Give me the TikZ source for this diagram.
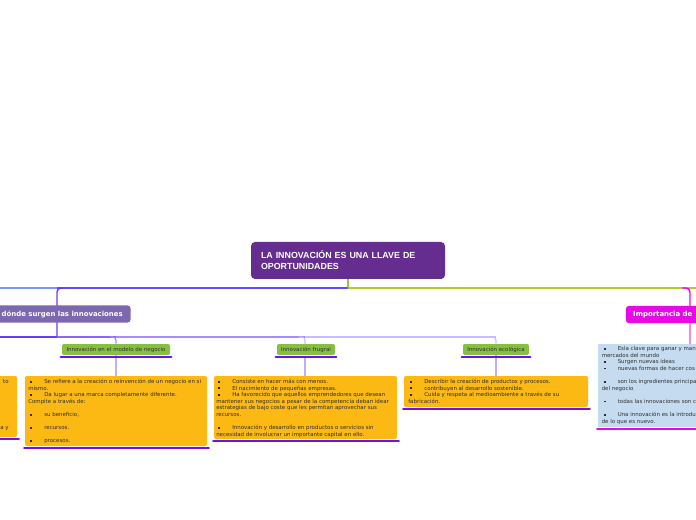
\documentclass[tikz,border=0pt]{standalone}
\usepackage{fontspec}
\setmainfont{DejaVu Sans}
\newfontfamily\libsans{Liberation Sans}
\usetikzlibrary{calc}
\definecolor{cpurple}{HTML}{662D91}
\definecolor{lpurple}{HTML}{7B68AE}
\definecolor{cmag}{HTML}{E60BE6}
\definecolor{cmagl}{HTML}{F08AF0}
\definecolor{cgreen}{HTML}{87C040}
\definecolor{corange}{HTML}{FDB913}
\definecolor{cblue}{HTML}{C5DCF0}
\definecolor{uline}{HTML}{6A10FF}
\definecolor{txt}{HTML}{2E2E2E}
\definecolor{lnblue}{HTML}{5B4FFF}
\definecolor{lnblueb}{HTML}{7A95FF}
\definecolor{lnyg}{HTML}{B5C934}
\definecolor{lngreen}{HTML}{8CCB3A}
\definecolor{lnp}{HTML}{6A3BFF}
\definecolor{lnpa}{HTML}{8A66FF}
\definecolor{lnpb}{HTML}{A58CFF}
\definecolor{lnpc}{HTML}{C9BCFF}
\definecolor{lnpd}{HTML}{BDAEFF}
\newcommand\cenfont{\libsans\bfseries\fontsize{6.65pt}{8.25pt}\selectfont}
\newcommand\topfont{\bfseries\fontsize{5.2pt}{6pt}\selectfont}
\newcommand\subfont{\fontsize{4.1pt}{4.8pt}\selectfont}
\newcommand\bxfont{\fontsize{4.1pt}{4.95pt}\selectfont}
\newcommand\bul{\hspace*{1.5pt}\rule[0.7pt]{1.4pt}{1.4pt}\hspace*{9.1pt}}
\begin{document}
\begin{tikzpicture}[x=0.75pt,y=-0.75pt,
  central/.style={fill=cpurple, rounded corners=3pt, text=white, font=\cenfont, align=left, text width=130.5pt, minimum width=145.5pt, minimum height=27.75pt, inner sep=0pt},
  topnode/.style={rounded corners=2.5pt, text=white, font=\topfont, minimum height=13pt, inner ysep=0pt},
  subnode/.style={fill=cgreen, rounded corners=1.5pt, text=txt, font=\subfont, minimum height=8.25pt, inner sep=0pt},
  obox/.style={fill=corange, rounded corners=1.5pt, inner sep=0pt},
  bbox/.style={fill=cblue, inner sep=0pt},
  btext/.style={anchor=north west, inner sep=0pt, align=left, font=\bxfont, text=txt},
  ul/.style={line width=1.7pt, uline, line cap=round},
  ln/.style={line width=1.1pt},
  lns/.style={line width=0.85pt, rounded corners=2.5pt}]
\useasboundingbox (0,0) rectangle (696,520);
\clip (0,0) rectangle (696,520);
\fill[white] (0,0) rectangle (696,520);

% coordinates
\coordinate (jc) at (348,288);
\coordinate (jl) at (57,288);
\coordinate (jr) at (690,288);
\coordinate (jb) at (57,337);
\coordinate (ledge) at (-5,288);
\coordinate (redge) at (705,288);
\coordinate (bedge) at (-5,337);

% central node
\node[central] (C) at (348,260.5) {LA INNOVACIÓN ES UNA LLAVE DE\\OPORTUNIDADES};

% main connectors
\draw[ln, lngreen] (C.south) -- (jc);
\draw[ln, lnyg] (jc) -- (redge);
\draw[ln, lnblue] (jc) -- (jl);
\draw[ln, lnblueb] (jl) -- (ledge);
\draw[ln, lnp, rounded corners=3pt] ($(jl)+(8,0)$) -- (jl) -- (jb);
\draw[ln, cmag, rounded corners=3pt] ($(jr)+(-8,0)$) -- (jr) -- (690,306);

% branch line under "donde surgen"
\draw[lns, lnp] (bedge) -- (jb);
\draw[lns, lnpa] (jb) -- (116,337);
\draw[lns, lnpb] (116,337) -- (305,337);
\draw[lns, lnpc] (305,337) -- (496,337);

% main topic nodes
\node[topnode, fill=lpurple, anchor=east, inner xsep=6pt] (L) at (131,314) {dónde surgen las innovaciones};
\node[topnode, fill=cmag, anchor=west, inner xsep=5.6pt, text width=60pt, align=left] (I) at (625.5,314.5) {Importancia de};

% sub topics
\node[subnode, minimum width=81pt] (G1) at (116,349.5) {Innovación en el modelo de negocio};
\node[subnode, minimum width=43.5pt] (G2) at (306,349.5) {Innovación frugral};
\node[subnode, minimum width=49.5pt] (G3) at (496,349.5) {Innovación ecológica};

\draw[lns, lnpb] (110,337) -- (116,337) -- (G1.north);
\draw[lns, lnpc] (299,337) -- (305,337) -- (305,344);
\draw[lns, lnpc] (490,337) -- (496,337) -- (G3.north);

% boxes
\node[obox, minimum width=136.5pt, minimum height=52.5pt] (B1) at (116,411) {};
\node[obox, minimum width=137.25pt, minimum height=47.25pt] (B2) at (305.5,407.5) {};
\node[obox, minimum width=138pt, minimum height=23.25pt] (B3) at (496,391.5) {};
\node[obox, minimum width=28pt, minimum height=45.75pt] (B0) at (-1.5,406.5) {};
\node[bbox, minimum width=93pt, minimum height=62.25pt] (B4) at (660,385.5) {};

\draw[lns, lnpd] (G1.south) -- (B1.north);
\draw[lns, lnpd] (305,356) -- (305,376);
\draw[lns, lnpd] (G3.south) -- (B3.north);
\draw[lns, cmagl] (690,323) -- (690,344);

% underlines
\draw[ul] ($(G1.south west)+(-1,1.5)$) -- ($(G1.south east)+(1,1.5)$);
\draw[ul] ($(G2.south west)+(-1,1.5)$) -- ($(G2.south east)+(1,1.5)$);
\draw[ul] ($(G3.south west)+(-1,1.5)$) -- ($(G3.south east)+(1,1.5)$);
\draw[ul] ($(B1.south west)+(-0.5,1.8)$) -- ($(B1.south east)+(1.5,1.8)$);
\draw[ul] ($(B2.south west)+(-0.5,1.8)$) -- ($(B2.south east)+(1.5,1.8)$);
\draw[ul] ($(B3.south west)+(-0.5,1.8)$) -- ($(B3.south east)+(1.5,1.8)$);
\draw[ul] ($(B0.south west)+(-0.5,1.8)$) -- ($(B0.south east)+(1.5,1.8)$);
\draw[ul, cmag] ($(B4.south west)+(-0.5,1.8)$) -- ($(B4.south east)+(1.5,1.8)$);

% texts
\node[btext] (T1) at (28,378.7) {\strut\bul Se refiere a la creación o reinvención de un negocio en si\\
mismo.\\
\bul Da lugar a una marca completamente diferente.\\
Compite a través de:\\[4.95pt]
\bul su beneficio,\\[4.95pt]
\bul recursos.\\[4.95pt]
\bul procesos.};

\node[btext] (T2) at (216,378.7) {\strut\bul Consiste en hacer más con menos.\\
\bul El nacimiento de pequeñas empresas.\\
\bul Ha favorecido que aquellos emprendedores que desean\\
mantener sus negocios a pesar de la competencia deban idear\\
estrategias de bajo coste que les permitan aprovechar sus\\
recursos.\\[4.95pt]
\bul Innovación y desarrollo en productos o servicios sin\\
necesidad de involucrar un importante capital en ello.};

\node[btext] (T3) at (408,378.7) {\strut\bul Describir la creación de productos y procesos.\\
\bul contribuyen al desarrollo sostenible.\\
\bul Cuida y respeta al medioambiente a través de su\\
fabricación.};

\node[btext] (T4) at (601.5,345.7) {\strut\bul Esla clave para ganar y man\\
mercados del mundo\\
\bul Surgen nuevas ideas\\
\bul nuevas formas de hacer cos\\[4.95pt]
\bul son los ingredientes principa\\
del negocio\\[4.95pt]
\bul todas las innovaciones son c\\[4.95pt]
\bul Una innovación es la introdu\\
de lo que es nuevo.};

\node[anchor=base east, inner sep=0pt, font=\bxfont, text=txt] (T0a) at (9,383) {to};
\node[anchor=base east, inner sep=0pt, font=\bxfont, text=txt] (T0b) at (9,429) {a y};
\end{tikzpicture}
\end{document}
